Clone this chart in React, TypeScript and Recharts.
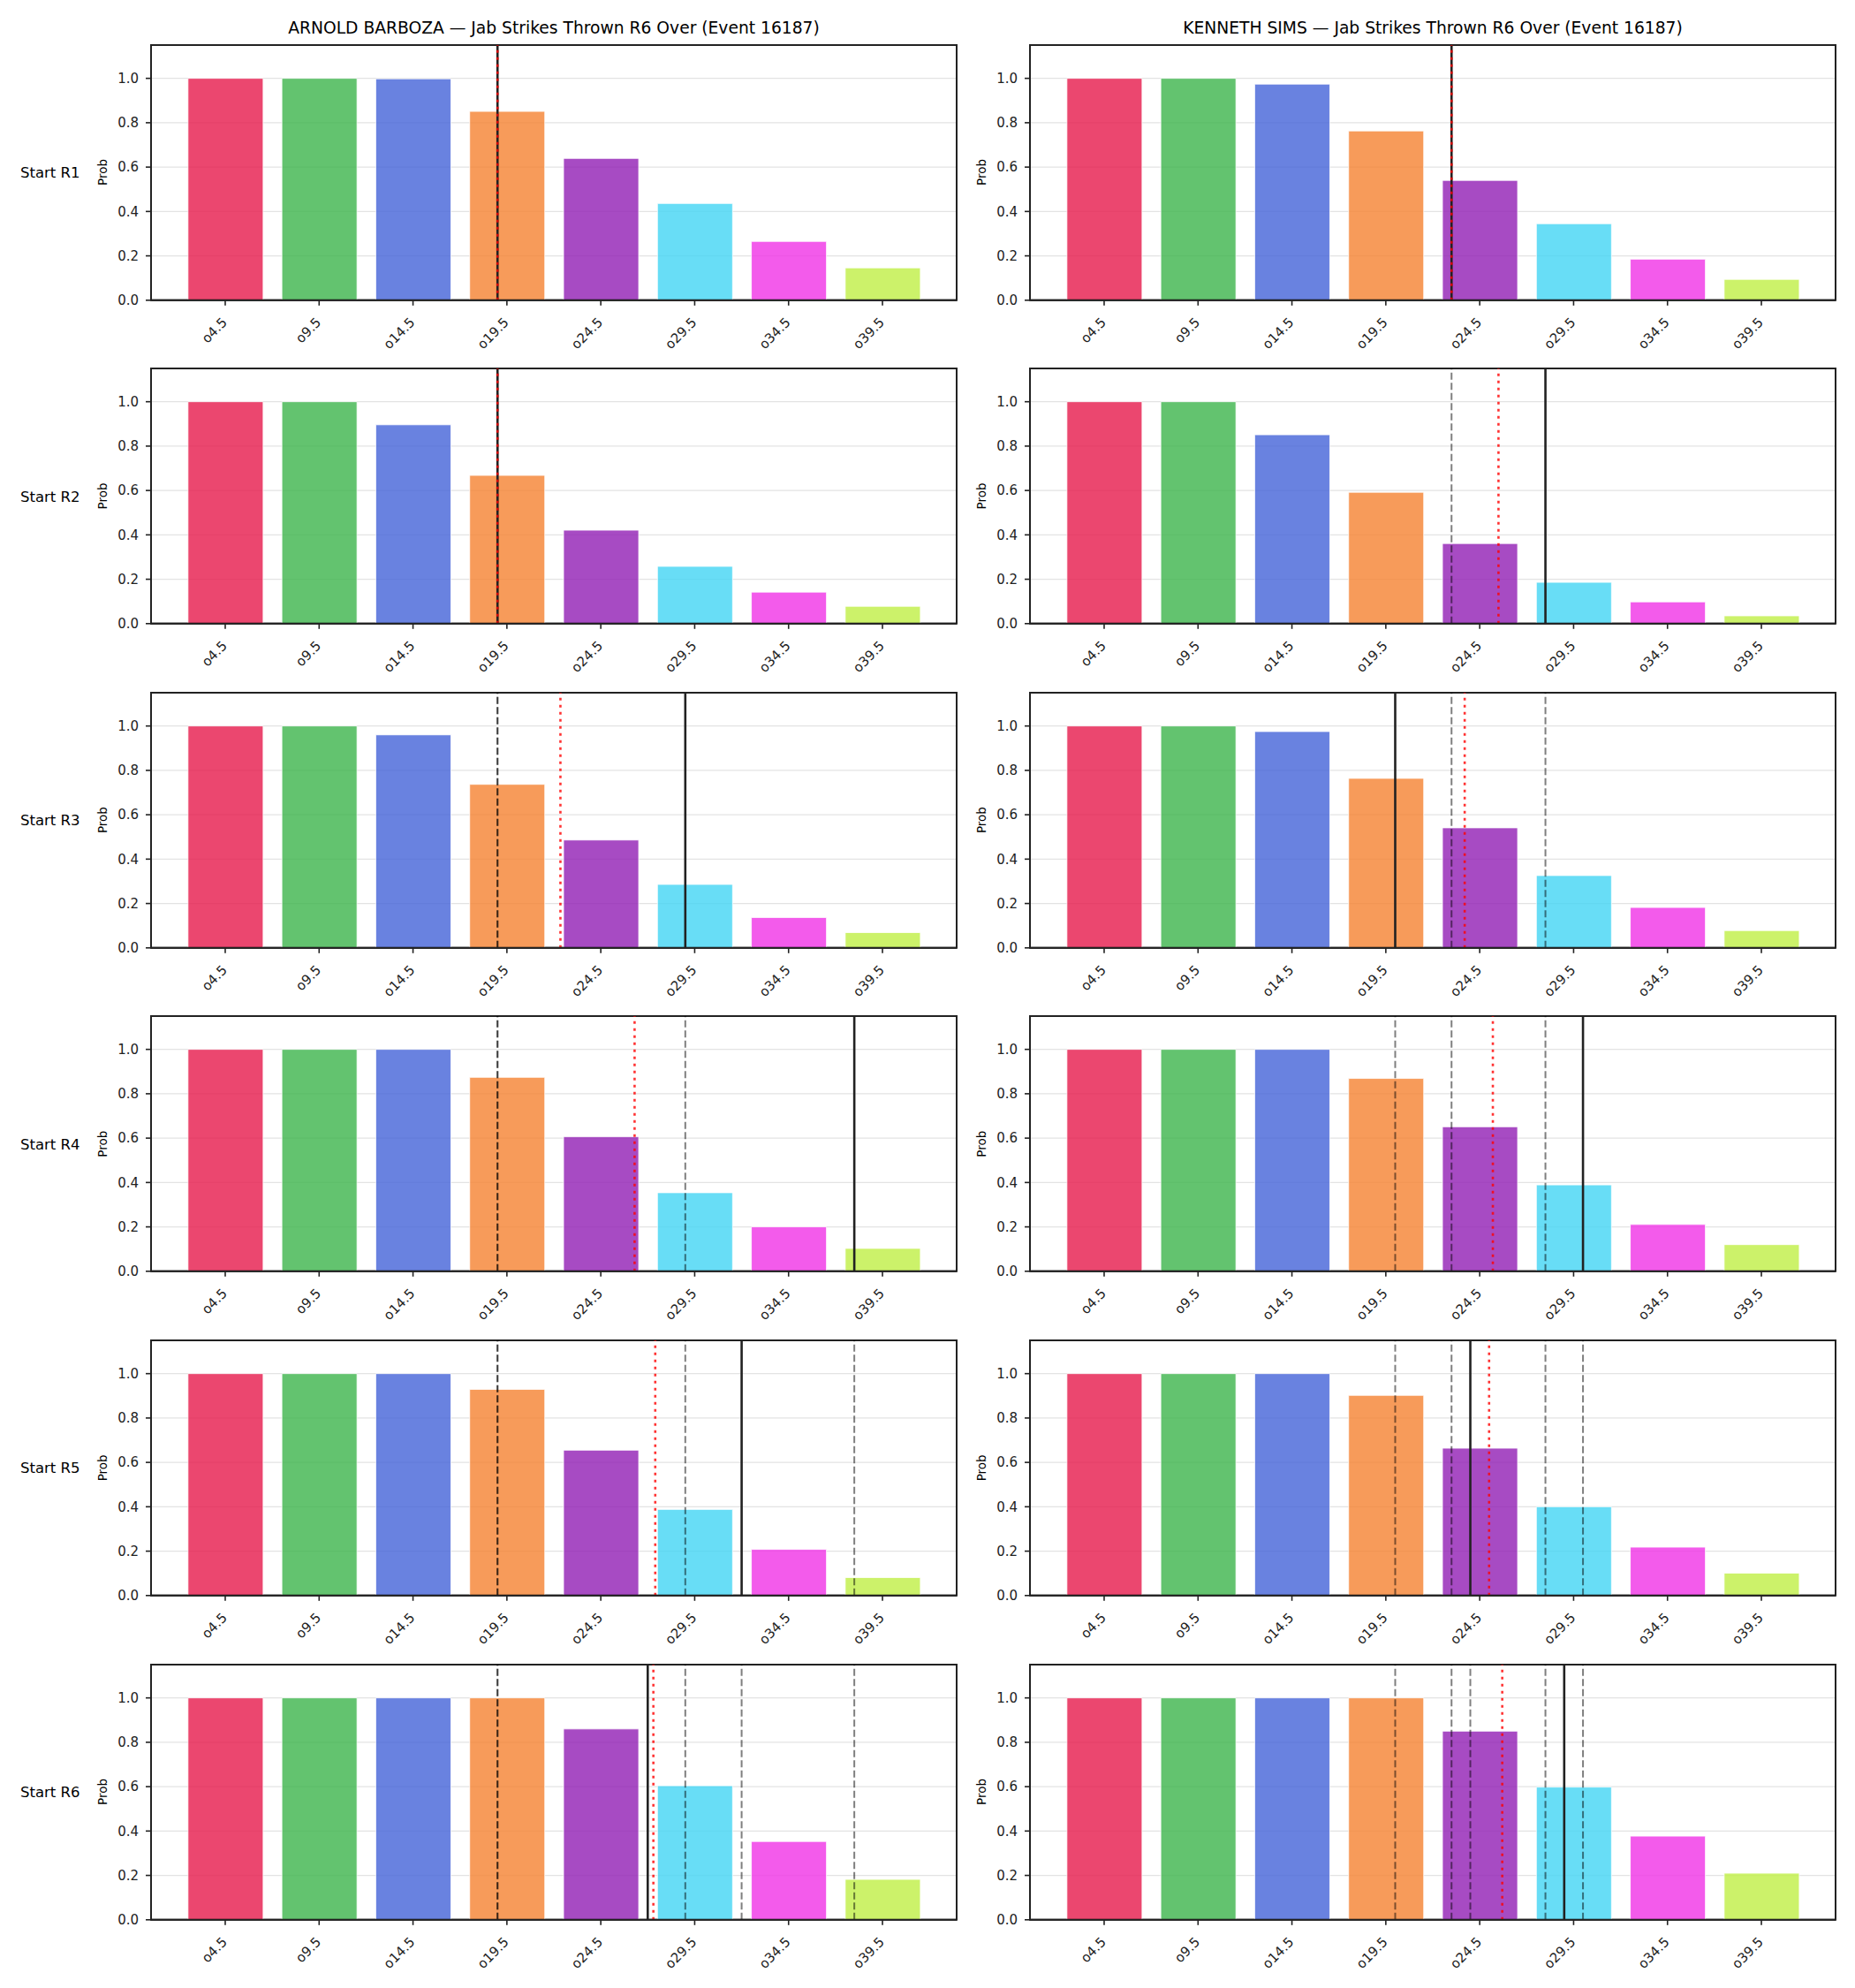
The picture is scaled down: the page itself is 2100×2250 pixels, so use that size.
import React from 'react';
import { BarChart, Bar, Cell, XAxis, YAxis, CartesianGrid, ReferenceLine, ReferenceArea } from 'recharts';

const lines = ['o4.5', 'o9.5', 'o14.5', 'o19.5', 'o24.5', 'o29.5', 'o34.5', 'o39.5'];
const lineValues = [4.5, 9.5, 14.5, 19.5, 24.5, 29.5, 34.5, 39.5];
const barColors = ['#e6194b', '#3cb44b', '#4363d8', '#f58231', '#911eb4', '#42d4f4', '#f032e6', '#bfef45'];
const rounds = ['R1', 'R2', 'R3', 'R4', 'R5', 'R6'];
const yTicks = [0, 0.2, 0.4, 0.6, 0.8, 1.0];

const barbozaProbs = [
  [1.0, 1.0, 0.998, 0.851, 0.639, 0.436, 0.265, 0.146],
  [1.0, 1.0, 0.896, 0.668, 0.421, 0.258, 0.142, 0.078],
  [1.0, 1.0, 0.96, 0.737, 0.486, 0.286, 0.137, 0.069],
  [1.0, 1.0, 1.0, 0.874, 0.606, 0.354, 0.2, 0.103],
  [1.0, 1.0, 1.0, 0.929, 0.655, 0.388, 0.208, 0.081],
  [1.0, 1.0, 1.0, 1.0, 0.86, 0.604, 0.353, 0.182],
];
const simsProbs = [
  [1.0, 1.0, 0.974, 0.763, 0.54, 0.345, 0.185, 0.094],
  [1.0, 1.0, 0.851, 0.592, 0.361, 0.186, 0.098, 0.035],
  [1.0, 1.0, 0.975, 0.764, 0.541, 0.326, 0.182, 0.078],
  [1.0, 1.0, 1.0, 0.869, 0.651, 0.389, 0.211, 0.12],
  [1.0, 1.0, 1.0, 0.902, 0.664, 0.4, 0.218, 0.101],
  [1.0, 1.0, 1.0, 1.0, 0.85, 0.598, 0.377, 0.21],
];

// actual jab count at each start round (black), projection (red dotted)
const barbozaActual = [19, 19, 29, 38, 32, 27];
const barbozaProj = [19, 19, 22.35, 26.3, 27.4, 27.3];
const simsActual = [23, 28, 20, 30, 24, 29];
const simsProj = [23, 25.5, 23.7, 25.2, 25.0, 25.7];

const FONT = '"DejaVu Sans", sans-serif';
const INK = '#222';

const PLOT_W = 912;
const PLOT_H = 288.8;
const ROW_STEP = 366.6;
const TOP0 = 50.5;
const COL_LEFT = [171, 1166];
const M_L = 40;
const Y_W = 60;
const M_T = 10;
const X_H = 70;
const M_B = 10;
const M_R = 10;

const STEP = 5;
const X_MIN = lineValues[0] - 0.79 * STEP;
const X_MAX = lineValues[7] + 0.79 * STEP;
const BAR_W = (0.8 * PLOT_W) / 8.58;

function SlantTick(props: any) {
  const { x, y, payload } = props;
  const ax = x + 3;
  const ay = y + 18;
  const label = lines[lineValues.indexOf(payload.value)];
  return (
    <text
      x={ax}
      y={ay}
      transform={`rotate(-45 ${ax} ${ay})`}
      textAnchor="end"
      fontSize={15}
      fill={INK}
      fontFamily={FONT}
    >
      {label}
    </text>
  );
}

function Panel({
  probs,
  actual,
  proj,
  round,
}: {
  probs: number[][];
  actual: number[];
  proj: number[];
  round: number;
}) {
  const data = lineValues.map((v, i) => ({ x: v, p: probs[round][i] }));
  const previous = actual.slice(0, round);
  return (
    <BarChart
      width={PLOT_W + M_L + Y_W + M_R}
      height={PLOT_H + M_T + X_H + M_B}
      data={data}
      margin={{ top: M_T, right: M_R, left: M_L, bottom: M_B }}
    >
      <CartesianGrid vertical={false} stroke="#e3e3e3" strokeWidth={1.2} />
      <XAxis
        dataKey="x"
        type="number"
        domain={[X_MIN, X_MAX]}
        ticks={lineValues}
        allowDataOverflow
        height={X_H}
        interval={0}
        axisLine={{ stroke: INK, strokeWidth: 2 }}
        tickLine={{ stroke: INK, strokeWidth: 1.6 }}
        tickSize={6}
        tick={<SlantTick />}
      />
      <YAxis
        domain={[0, 1.15]}
        ticks={yTicks}
        width={Y_W}
        allowDataOverflow
        axisLine={{ stroke: INK, strokeWidth: 2 }}
        tickLine={{ stroke: INK, strokeWidth: 1.6 }}
        tickSize={6}
        tickMargin={8}
        tickFormatter={(v: number) => v.toFixed(1)}
        tick={{ fontSize: 15, fill: INK, fontFamily: FONT }}
      />
      <Bar
        dataKey="p"
        barSize={BAR_W}
        stroke="#ffffff"
        strokeWidth={0.8}
        isAnimationActive={false}
      >
        {data.map((_, i) => (
          <Cell key={i} fill={barColors[i]} fillOpacity={0.8} />
        ))}
      </Bar>
      {previous.map((v, i) => (
        <ReferenceLine
          key={'prev' + i}
          x={v}
          stroke="#000"
          strokeOpacity={0.5}
          strokeWidth={2}
          strokeDasharray="8 3.5"
        />
      ))}
      <ReferenceLine x={actual[round]} stroke={INK} strokeWidth={2.6} />
      <ReferenceLine
        x={proj[round]}
        stroke="#ff0000"
        strokeOpacity={0.8}
        strokeWidth={2.6}
        strokeDasharray="3 5"
      />
      <ReferenceArea
        x1={X_MIN}
        x2={X_MAX}
        y1={0}
        y2={1.15}
        fill="none"
        stroke={INK}
        strokeWidth={2}
        ifOverflow="visible"
      />
    </BarChart>
  );
}

const fighters = [
  { name: 'ARNOLD BARBOZA', probs: barbozaProbs, actual: barbozaActual, proj: barbozaProj },
  { name: 'KENNETH SIMS', probs: simsProbs, actual: simsActual, proj: simsProj },
];

export default function App() {
  return (
    <div style={{ position: 'absolute', left: 0, top: 0, width: 2100, height: 2250, background: '#fff' }}>
      {fighters.map((f, c) =>
        rounds.map((r, ri) => (
          <div
            key={f.name + r}
            style={{
              position: 'absolute',
              left: COL_LEFT[c] - M_L - Y_W,
              top: TOP0 + ri * ROW_STEP - M_T,
            }}
          >
            <Panel probs={f.probs} actual={f.actual} proj={f.proj} round={ri} />
          </div>
        ))
      )}
      <svg
        width={2100}
        height={2250}
        style={{ position: 'absolute', left: 0, top: 0, pointerEvents: 'none' }}
      >
        {fighters.map((f, c) => (
          <text
            key={'t' + c}
            x={COL_LEFT[c] + PLOT_W / 2}
            y={38}
            textAnchor="middle"
            fontSize={18.7}
            fill="#000"
            fontFamily={FONT}
          >
            {`${f.name} — Jab Strikes Thrown R6 Over (Event 16187)`}
          </text>
        ))}
        {rounds.map((r, ri) => {
          const cy = TOP0 + ri * ROW_STEP + PLOT_H / 2;
          return (
            <g key={'row' + r}>
              <text x={23} y={cy + 6} fontSize={16.5} fill="#000" fontFamily={FONT}>
                {`Start ${r}`}
              </text>
              {COL_LEFT.map((cl, c) => (
                <text
                  key={c}
                  x={cl - 50}
                  y={cy}
                  transform={`rotate(-90 ${cl - 50} ${cy})`}
                  textAnchor="middle"
                  fontSize={13.5}
                  fill="#000"
                  fontFamily={FONT}
                >
                  Prob
                </text>
              ))}
            </g>
          );
        })}
      </svg>
    </div>
  );
}
